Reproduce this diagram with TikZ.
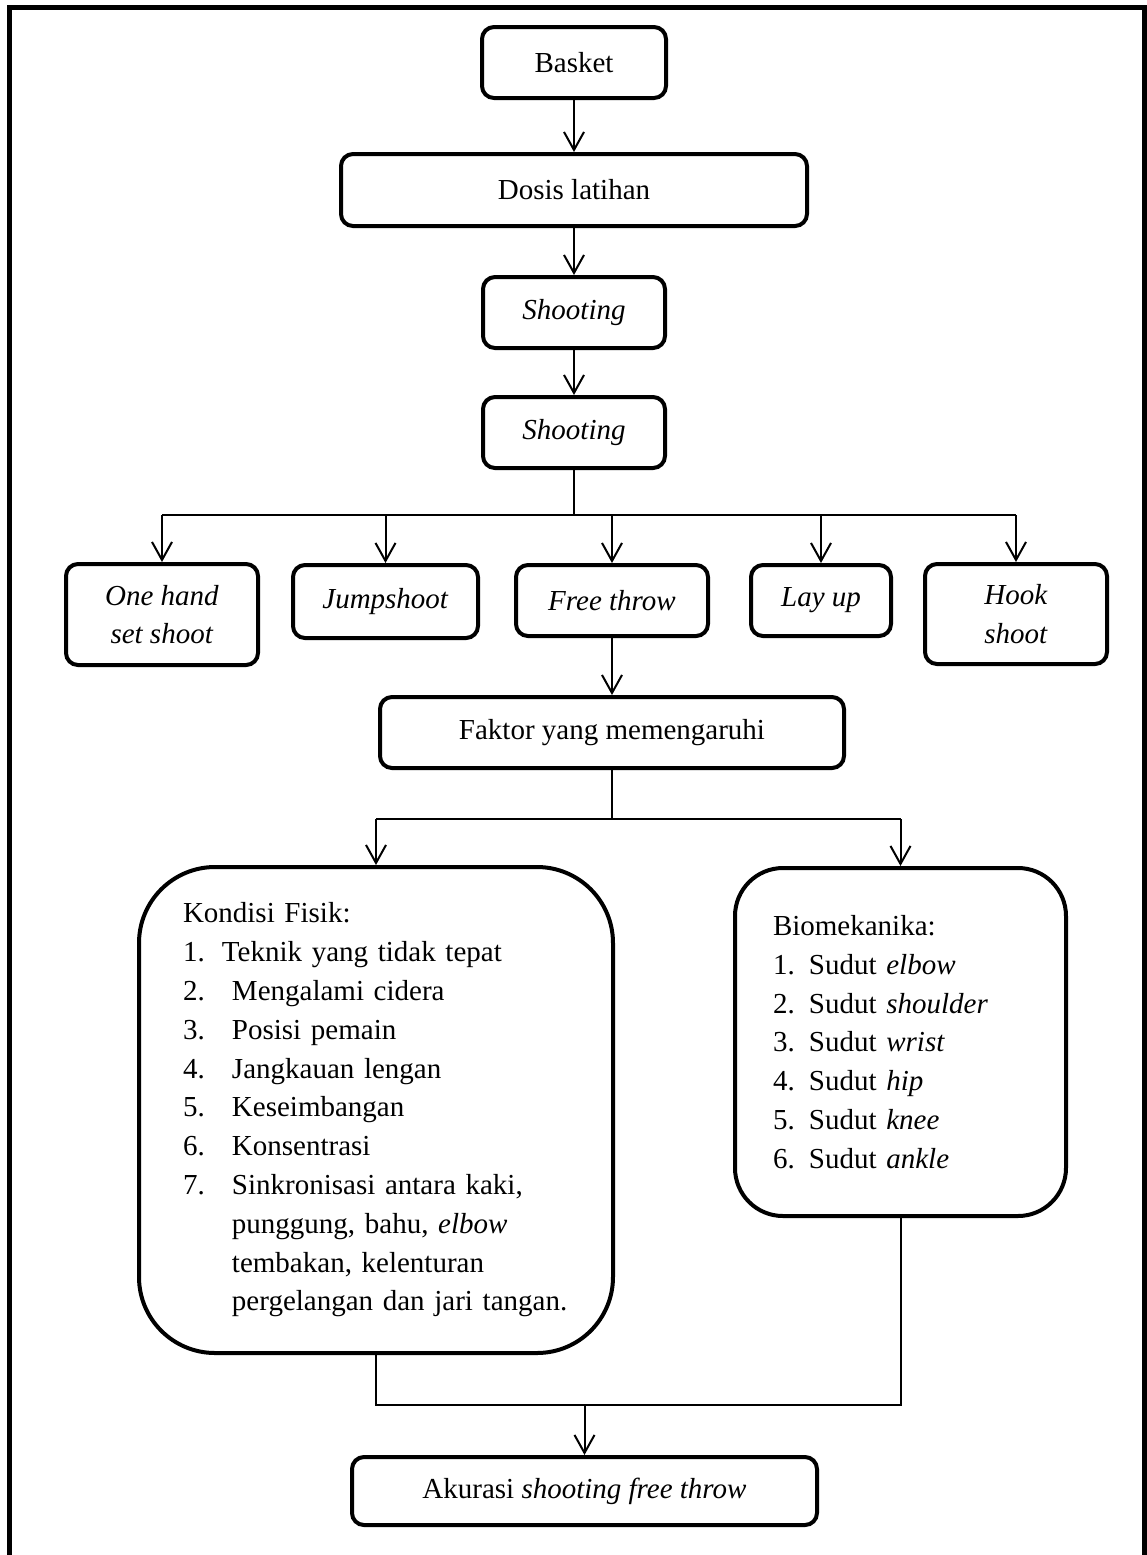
\documentclass[tikz,border=0pt]{standalone}
\usepackage{fontspec}
\setmainfont{Liberation Serif}
\usetikzlibrary{arrows.meta}

\newcommand{\numit}[2][24.5pt]{\makebox[#1][l]{#2}}

\begin{document}
\begin{tikzpicture} [
    x=0.5pt, y=-0.5pt,
    bx/.style={
        font=\fontsize{14.5}{19.4}\selectfont,
        align=center,
        draw, line width=2pt,
        rounded corners=6pt,
        inner sep=0pt
    },
    ln/.style={
        line width=1pt
    },
    ar/.style={
        ln, -{Straight Barb[length=9pt,width=10pt]}
    }
]

\useasboundingbox (0,0) rectangle (1147,1555);

% frame, open at the bottom
\draw [line width=2.5pt] (9.5,1555) -- (9.5,7.5) -- (1144,7.5) -- (1144,1555);

\node [bx,minimum width=92pt,minimum height=35.5pt]  (basket) at (574, 62.5)  {Basket};
\node [bx,minimum width=233pt,minimum height=36pt]   (dosis)  at (574, 190)   {Dosis latihan};
\node [bx,minimum width=91pt,minimum height=35.5pt]  (shoot1) at (574, 312.5) {\textit{Shooting}};
\node [bx,minimum width=91pt,minimum height=35.5pt]  (shoot2) at (574, 432.5) {\textit{Shooting}};

\node [bx,minimum width=96pt,minimum height=50.5pt]  (ohs)  at (162, 614.5)   {\textit{One hand}\\\textit{set shoot}};
\node [bx,minimum width=92.5pt,minimum height=36.5pt] (jump) at (385.5, 601.5) {\textit{Jumpshoot}};
\node [bx,minimum width=96pt,minimum height=35.5pt]  (free) at (612, 600.5)   {\textit{Free throw}};
\node [bx,minimum width=70pt,minimum height=35.5pt]  (lay)  at (821, 600.5)   {\textit{Lay up}};
\node [bx,minimum width=91pt,minimum height=50pt]    (hook) at (1016, 614)    {\textit{Hook}\\\textit{shoot}};

\node [bx,minimum width=232pt,minimum height=35.5pt] (faktor) at (612, 732.5) {Faktor yang memengaruhi};

\node [bx,align=left,text width=193pt,rounded corners=38pt,
       minimum width=237pt,minimum height=243pt] (fisik) at (376, 1110) {
    Kondisi Fisik:\\
    \numit[19.5pt]{1.}Teknik yang tidak tepat\\
    \numit{2.}Mengalami cidera\\
    \numit{3.}Posisi pemain\\
    \numit{4.}Jangkauan lengan\\
    \numit{5.}Keseimbangan\\
    \numit{6.}Konsentrasi\\
    \numit{7.}Sinkronisasi antara kaki,\\
    \numit{}punggung, bahu, \textit{elbow}\\
    \numit{}tembakan, kelenturan\\
    \numit{}pergelangan dan jari tangan.};

\node [bx,align=left,text width=127.5pt,rounded corners=24pt,
       minimum width=165.5pt,minimum height=174pt] (bio) at (900.5, 1042) {
    Biomekanika:\\
    \numit[18pt]{1.}Sudut \textit{elbow}\\
    \numit[18pt]{2.}Sudut \textit{shoulder}\\
    \numit[18pt]{3.}Sudut \textit{wrist}\\
    \numit[18pt]{4.}Sudut \textit{hip}\\
    \numit[18pt]{5.}Sudut \textit{knee}\\
    \numit[18pt]{6.}Sudut \textit{ankle}};

\node [bx,minimum width=232.5pt,minimum height=34pt] (akurasi) at (584.5, 1491)
    {Akurasi \textit{shooting free throw}};

\draw [ar] (basket) -- (dosis);
\draw [ar] (dosis) -- (shoot1);
\draw [ar] (shoot1) -- (shoot2);

\coordinate (j1) at (574, 515);
\draw [ln] (shoot2.south) -- (j1);
\draw [ln] (ohs.north |- j1) -- (hook.north |- j1);
\foreach \n in {ohs, jump, free, lay, hook}
    \draw [ar] (\n.north |- j1) -- (\n.north);

\draw [ar] (free) -- (faktor);

\coordinate (j2) at (612, 819);
\draw [ln] (faktor.south) -- (j2);
\draw [ln] (fisik.north |- j2) -- (bio.north |- j2);
\draw [ar] (fisik.north |- j2) -- (fisik.north);
\draw [ar] (bio.north |- j2) -- (bio.north);

\coordinate (j3) at (584.5, 1405);
\draw [ln] (fisik.south) -- (fisik.south |- j3) -- (bio.south |- j3) -- (bio.south);
\draw [ar] (akurasi.north |- j3) -- (akurasi.north);

\end{tikzpicture}
\end{document}
